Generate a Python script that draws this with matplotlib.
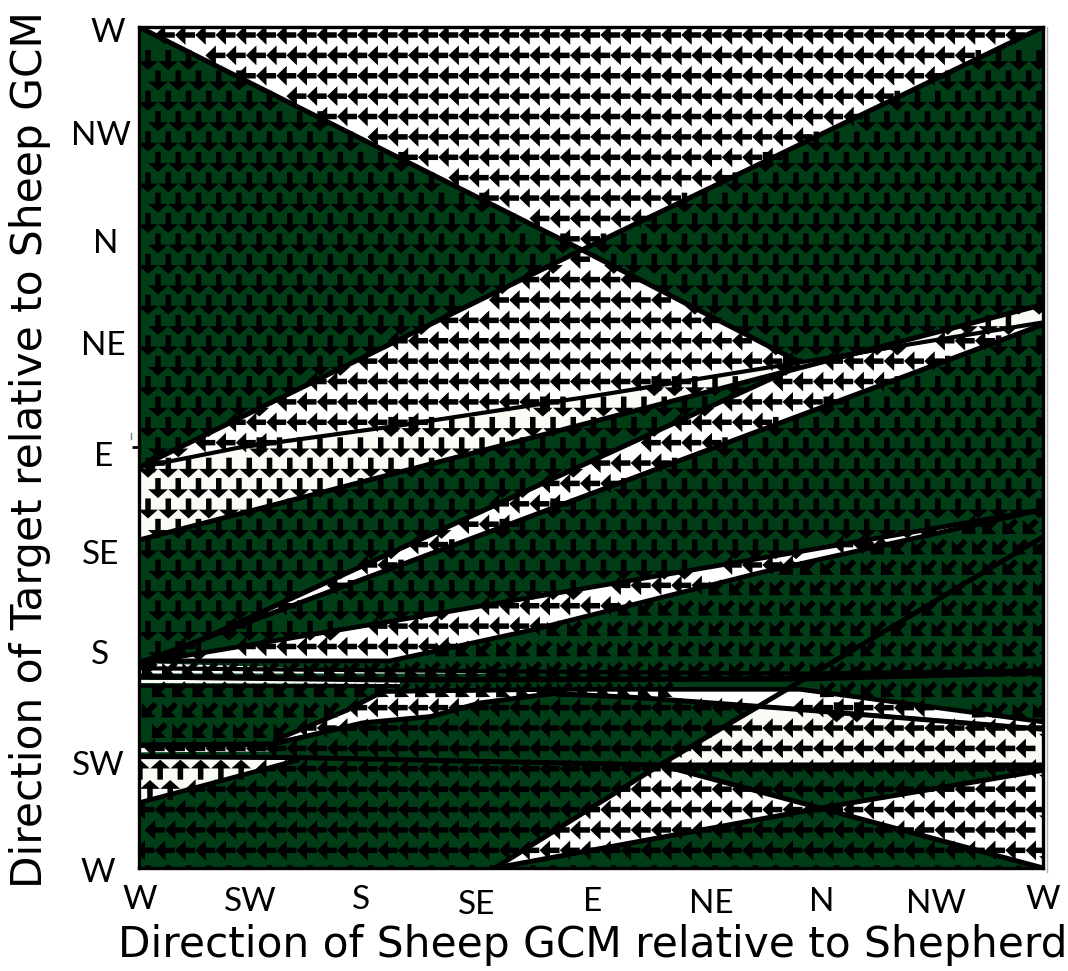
import numpy as np
from matplotlib import pyplot as plt
from matplotlib.path import Path
from matplotlib.transforms import ScaledTranslation
from matplotlib.lines import Line2D

green = '#003c16'
offwhite = '#f8fcf5'

x_labels = ['W', 'SW', 'S', 'SE', 'E', 'NE', 'N', 'NW', 'W']
y_labels = ['W', 'SW', 'S', 'SE', 'E', 'NE', 'N', 'NW', 'W']

# zone outlines, x and y in compass sectors (W=0 ... W=8)
top_x = [0, 8, 3.92]
top_y = [8, 8, 5.88]
upper_x = [0, 3.92, 5.85, 4.08, 2.31, 0.89]
upper_y = [3.81, 5.88, 4.81, 4.50, 4.21, 4.00]
band_x = [0, 0.89, 2.31, 4.08, 5.85, 8, 8, 0]
band_y = [3.81, 4.00, 4.21, 4.50, 4.81, 5.19, 5.36, 3.12]
mid_x = [0, 5.85, 8, 8, 0]
mid_y = [1.90, 4.78, 5.19, 5.17, 1.95]
low_x = [0.19, 2.58, 5.85, 8, 5.50, 3.46, 2.22]
low_y = [1.98, 2.41, 3.01, 3.41, 2.81, 2.26, 1.97]
wedge_x = [1.19, 1.84, 2.16, 3.73, 5.85, 8, 8, 5.70, 4.43, 3.66, 3.02, 2.58, 1.98]
wedge_y = [1.21, 1.50, 1.66, 1.68, 1.70, 1.39, 1.34, 1.54, 1.62, 1.66, 1.57, 1.44, 1.38]
east_x = [4.61, 5.50, 8, 8]
east_y = [0.98, 1.52, 1.34, 0.98]
tri1_x = [3.15, 4.61, 6.03]
tri1_y = [0, 0.98, 0.57]
tri2_x = [6.03, 8, 8]
tri2_y = [0.57, 0.93, 0]
up_x = [0, 1.34, 0]
up_y = [1.04, 1.03, 0.62]
strip1_x = [0, 3.19, 0]
strip1_y = [1.95, 1.85, 1.85]
strip2_x = [0, 2.31, 2.31, 0]
strip2_y = [1.79, 1.78, 1.75, 1.76]
strip3_x = [0, 0.98, 1.16, 0]
strip3_y = [1.14, 1.15, 1.11, 1.10]

# arrow direction zones
sw_x = [0, 2.22, 3.46, 5.50, 8, 8, 5.85, 3.73, 2.16, 1.84, 1.19, 0]
sw_y = [1.97, 1.97, 2.26, 2.81, 3.41, 1.39, 1.70, 1.68, 1.66, 1.50, 1.21, 1.17]
west_x = [0, 8, 8, 5.50, 3.66, 3.02, 2.58, 1.98, 1.19, 0]
west_y = [0, 0, 1.34, 1.52, 1.66, 1.57, 1.44, 1.38, 1.21, 1.17]

# boundary lines
lines = [
    ([0, 3.92, 5.85], [8, 5.88, 4.81], 3.6),
    ([8, 3.92, 0], [8, 5.88, 3.81], 3.6),
    ([0, 0.89, 2.31, 4.08, 5.85, 8], [3.81, 4.00, 4.21, 4.50, 4.81, 5.19], 3.0),
    ([0, 8], [3.12, 5.36], 3.6),
    ([0, 5.85], [1.90, 4.78], 3.6),
    ([0, 8], [1.95, 5.17], 3.6),
    ([0.19, 2.58, 5.85, 8], [1.98, 2.41, 3.01, 3.41], 3.4),
    ([0, 2.22, 3.46, 5.50, 8], [1.97, 1.97, 2.26, 2.81, 3.41], 3.4),
    ([4.61, 8], [0.98, 3.15], 3.6),
    ([0, 2.22, 5.85, 8], [1.90, 1.88, 1.85, 1.88], 3.0),
    ([0, 2.31, 5.85, 8], [1.82, 1.79, 1.80, 1.86], 4.0),
    ([0, 2.31], [1.73, 1.73], 2.6),
    ([1.19, 1.84, 2.16, 3.73, 5.85, 8], [1.21, 1.50, 1.68, 1.70, 1.70, 1.39], 3.4),
    ([0, 1.19, 1.98, 2.58, 3.02, 3.66, 4.43, 5.70, 8], [1.17, 1.18, 1.38, 1.44, 1.57, 1.66, 1.62, 1.52, 1.32], 3.6),
    ([0, 1.42, 4.61, 8], [1.06, 1.05, 0.98, 0.98], 3.6),
    ([0, 1.42], [0.62, 1.03], 3.4),
    ([3.15, 4.61], [0, 0.98], 3.6),
    ([3.15, 6.03, 8], [0, 0.57, 0.93], 3.6),
    ([4.61, 6.03, 8], [0.98, 0.57, 0], 3.6),
]

# arrow grid spacing in sectors
dx = 0.1792
dy = 0.1939


def inside(zx, zy, px, py):
    return Path(np.column_stack([zx, zy])).contains_points(np.column_stack([px, py]))


def zone_of(px, py):
    zone = np.full(px.shape, 'down', dtype=object)
    zone[inside(sw_x, sw_y, px, py)] = 'sw'
    zone[inside(west_x, west_y, px, py)] = 'left'
    zone[inside(up_x, up_y, px, py)] = 'up'
    for zx, zy in [(top_x, top_y), (upper_x, upper_y), (mid_x, mid_y), (low_x, low_y),
                   (wedge_x, wedge_y), (east_x, east_y)]:
        zone[inside(zx, zy, px, py)] = 'left'
    return zone


plt.rcParams['font.family'] = 'DejaVu Sans'
fig = plt.figure(figsize=(10.68, 9.71), dpi=100)
ax = fig.add_axes([139 / 1068, (971 - 868) / 971, 904 / 1068, 841 / 971])
ax.set_facecolor(green)
ax.set_xlim(0, 8)
ax.set_ylim(0, 8)

for zx, zy, c in [(top_x, top_y, 'white'), (upper_x, upper_y, 'white'), (band_x, band_y, offwhite),
                  (mid_x, mid_y, 'white'), (low_x, low_y, 'white'), (wedge_x, wedge_y, 'white'),
                  (east_x, east_y, offwhite), (tri1_x, tri1_y, 'white'), (tri2_x, tri2_y, 'white'),
                  (up_x, up_y, offwhite), (strip1_x, strip1_y, offwhite), (strip2_x, strip2_y, offwhite),
                  (strip3_x, strip3_y, offwhite)]:
    ax.fill(zx, zy, color=c, lw=0, zorder=1)

# name, u, v, even row x, odd row x, first row y, head width, head length
arrows = [
    ('down', 0, -20, 0.080, 0.168, 7.686, 3.6, 1.6),
    ('left', -20, 0, 0.049, 0.139, 7.924, 3.6, 1.9),
    ('up', 0, 20, 0.008, 0.097, 7.916, 3.6, 1.6),
    ('sw', -14, -14, -0.004, 0.085, 7.895, 3.6, 1.9),
]
for name, u, v, x_even, x_odd, y0, hw, hl in arrows:
    gx, gy = [], []
    for k in range(43):
        xs = np.arange(x_even if k % 2 == 0 else x_odd, 8.2, dx)
        gx.append(xs)
        gy.append(np.full(xs.shape, y0 - k * dy))
    gx = np.concatenate(gx)
    gy = np.concatenate(gy)
    keep = zone_of(gx, gy) == name
    ax.quiver(gx[keep], gy[keep], np.full(keep.sum(), u), np.full(keep.sum(), v),
              angles='uv', units='dots', scale_units='dots', scale=1, width=5.5,
              headwidth=hw, headlength=hl, headaxislength=hl, pivot='mid',
              color='k', zorder=2)

for lx, ly, lw in lines:
    ax.plot(lx, ly, color='k', lw=lw, solid_capstyle='butt', zorder=3)

for s in ax.spines.values():
    s.set_linewidth(2.4)
    s.set_zorder(5)

ax.set_xticks(range(9))
ax.set_yticks(range(9))
ax.set_xticklabels(x_labels, family='Lato', fontsize=24)
ax.set_yticklabels(y_labels, family='Lato', fontsize=24, ha='center')
ax.tick_params(axis='x', length=0, pad=12)
ax.tick_params(axis='y', length=0, pad=26)
ax.yaxis.get_major_ticks()[4].tick1line.set_markersize(5)
ax.yaxis.get_major_ticks()[4].tick1line.set_markeredgewidth(2)

x_off = [1, -2, -4, -1, 2, 7, 5, 6, 0]
x_up = [0, -2, 0, -5, -2, -4, -2, -4, 0]
y_off = [-5, -5, -3, -2, 1, 0, 3, -2, 5]
y_up = [-2, 0, 6, 1, -7, -1, -4, -1, -3]
for lab, a, b in zip(ax.get_xticklabels(), x_off, x_up):
    lab.set_transform(lab.get_transform() + ScaledTranslation(a / 100, b / 100, fig.dpi_scale_trans))
for lab, a, b in zip(ax.get_yticklabels(), y_off, y_up):
    lab.set_transform(lab.get_transform() + ScaledTranslation(a / 100, b / 100, fig.dpi_scale_trans))

fig.text(118 / 1068, 1 - 945 / 971, 'Direction of Sheep GCM relative to Shepherd', fontsize=30.4, va='center', ha='left')
fig.text(30 / 1068, 1 - 450 / 971, 'Direction of Target relative to Sheep GCM', fontsize=30.4, va='center', ha='center', rotation=90)

fig.add_artist(Line2D([1047 / 1068, 1047 / 1068], [1 - 27 / 971, 1 - 872 / 971], color='#b0b0b0', lw=1))
fig.add_artist(Line2D([131 / 1068, 131 / 1068], [1 - 433 / 971, 1 - 439 / 971], color='#808080', lw=1))

plt.savefig('out.png', dpi=100)
